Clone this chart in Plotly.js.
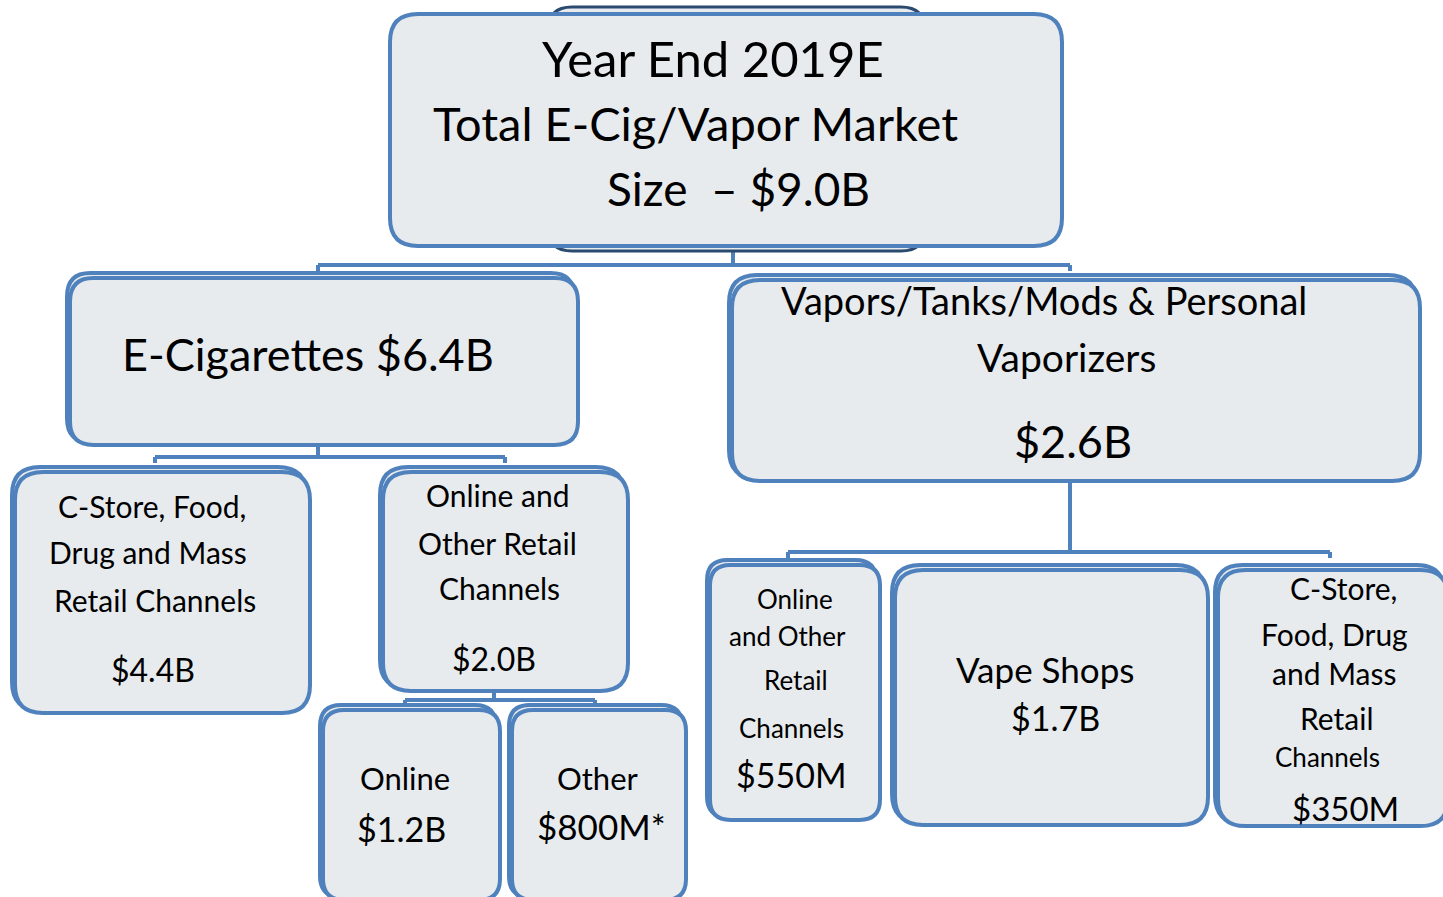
<!DOCTYPE html>
<html>
<head>
<meta charset="utf-8">
<script src="https://cdn.plot.ly/plotly-3.0.1.min.js"></script>
<style>html,body{margin:0;padding:0;background:#fff;}#chart{width:1443px;height:897px;}</style>
</head>
<body>
<div id="chart"></div>
<script>
// ---- data ----
const nodeIds = ['total','ecig','vapor','ecigCstore','ecigOnlineOther','ecigOnline','ecigOther','vapOnline','vapShops','vapCstore'];
const nodeLines = [
  ['Year End 2019E','Total E-Cig/Vapor Market','Size  \u2013 $9.0B'],
  ['E-Cigarettes $6.4B'],
  ['Vapors/Tanks/Mods & Personal','Vaporizers','$2.6B'],
  ['C-Store, Food,','Drug and Mass','Retail Channels','$4.4B'],
  ['Online and','Other Retail','Channels','$2.0B'],
  ['Online','$1.2B'],
  ['Other','$800M*'],
  ['Online','and Other','Retail','Channels','$550M'],
  ['Vape Shops','$1.7B'],
  ['C-Store,','Food, Drug','and Mass','Retail','Channels','$350M']
];
const parentOf = [null,'total','total','ecig','ecig','ecigOnlineOther','ecigOnlineOther','vapor','vapor','vapor'];

// ---- layout (positions / sizes / styles) ----
const boxes = { // x0,y0,x1,y1 in pixel-like layout coords
  total:[390,14,1062,246], ecig:[70,278,578,445], vapor:[732,280,1420,481],
  ecigCstore:[15,472,310,713], ecigOnlineOther:[383,472,628,691],
  ecigOnline:[323,710,500,900], ecigOther:[512,710,686,900],
  vapOnline:[710,565,880,820], vapShops:[895,570,1208,825], vapCstore:[1218,570,1448,826]
};
const textPos = { // per line [x, y, size]
  total:[[713,58,49],[695,123,47],[738,188,46]],
  ecig:[[308,354,45]],
  vapor:[[1044,300,38],[1066,357,39],[1073,441,45]],
  ecigCstore:[[152,506,30],[148,552,30],[155,600,30],[153,669,32]],
  ecigOnlineOther:[[497,495,30],[497,543,30],[499,588,30],[494,658,32]],
  ecigOnline:[[405,778,31],[401,828,34]],
  ecigOther:[[598,778,31],[601,826,35]],
  vapOnline:[[795,599,26],[787,636,26],[796,680,26],[791,728,26],[791,774,34]],
  vapShops:[[1045,669,35],[1055,717,34]],
  vapCstore:[[1343,588,30],[1334,634,30],[1334,673,30],[1337,718,30],[1327,757,26],[1345,808,33]]
};
const connectors = { // parent -> [stemX, stemY0, barY, barX0, barX1]
  total:[733,246,265,318,1070],
  ecig:[318,445,457,155,505],
  ecigOnlineOther:[494,691,700,405,595],
  vapor:[1070,481,552,788,1330]
};
const BLUE = '#4f81bd', FILL = '#e7ebee', FONT = 'Lato, "Open Sans", sans-serif';

function rr(x0,y0,x1,y1,r){
  return `M${x0+r},${y0} L${x1-r},${y0} Q${x1},${y0} ${x1},${y0+r} L${x1},${y1-r} Q${x1},${y1} ${x1-r},${y1} L${x0+r},${y1} Q${x0},${y1} ${x0},${y1-r} L${x0},${y0+r} Q${x0},${y0} ${x0+r},${y0} Z`;
}
const shapes = [];
// connectors
Object.keys(connectors).forEach(k=>{
  const [sx,sy0,by,bx0,bx1] = connectors[k];
  const ln = {color:BLUE,width:4};
  shapes.push({type:'line',xref:'x',yref:'y',x0:sx,x1:sx,y0:sy0,y1:by,line:ln,layer:'below'});
  shapes.push({type:'line',xref:'x',yref:'y',x0:bx0,x1:bx1,y0:by,y1:by,line:ln,layer:'below'});
  shapes.push({type:'line',xref:'x',yref:'y',x0:bx0,x1:bx0,y0:by,y1:by+6,line:ln,layer:'below'});
  shapes.push({type:'line',xref:'x',yref:'y',x0:bx1,x1:bx1,y0:by,y1:by+6,line:ln,layer:'below'});
});
// top shadow box
shapes.push({type:'path',xref:'x',yref:'y',path:rr(548,7,925,251,24),fillcolor:FILL,line:{color:'#2b4a70',width:3}});
nodeIds.forEach((id,i)=>{
  const [x0,y0,x1,y1] = boxes[id];
  const r = Math.min(28,(x1-x0)*0.12,(y1-y0)*0.14);
  if(id!=='total') shapes.push({type:'path',xref:'x',yref:'y',path:rr(x0-3,y0-5,x1-4,y1-3,r),fillcolor:FILL,line:{color:BLUE,width:4}});
  shapes.push({type:'path',xref:'x',yref:'y',path:rr(x0,y0,x1,y1,r),fillcolor:FILL,line:{color:BLUE,width:4}});
});
const annotations = [];
nodeIds.forEach((id,i)=>{
  nodeLines[i].forEach((t,j)=>{
    const [x,y,s] = textPos[id][j];
    annotations.push({x:x,y:y,xref:'x',yref:'y',text:t,showarrow:false,xanchor:'center',yanchor:'middle',font:{family:FONT,size:s,color:'#000'}});
  });
});
const layout = {
  width:1443,height:897,margin:{l:0,r:0,t:0,b:0},
  paper_bgcolor:'#fff',plot_bgcolor:'#fff',showlegend:false,
  xaxis:{range:[0,1443],visible:false,fixedrange:true},
  yaxis:{range:[897,0],visible:false,fixedrange:true},
  shapes:shapes,annotations:annotations
};
Plotly.newPlot('chart',[{x:[0],y:[0],mode:'markers',marker:{opacity:0},hoverinfo:'skip'}],layout,{displayModeBar:false,staticPlot:true});
</script>
</body>
</html>
